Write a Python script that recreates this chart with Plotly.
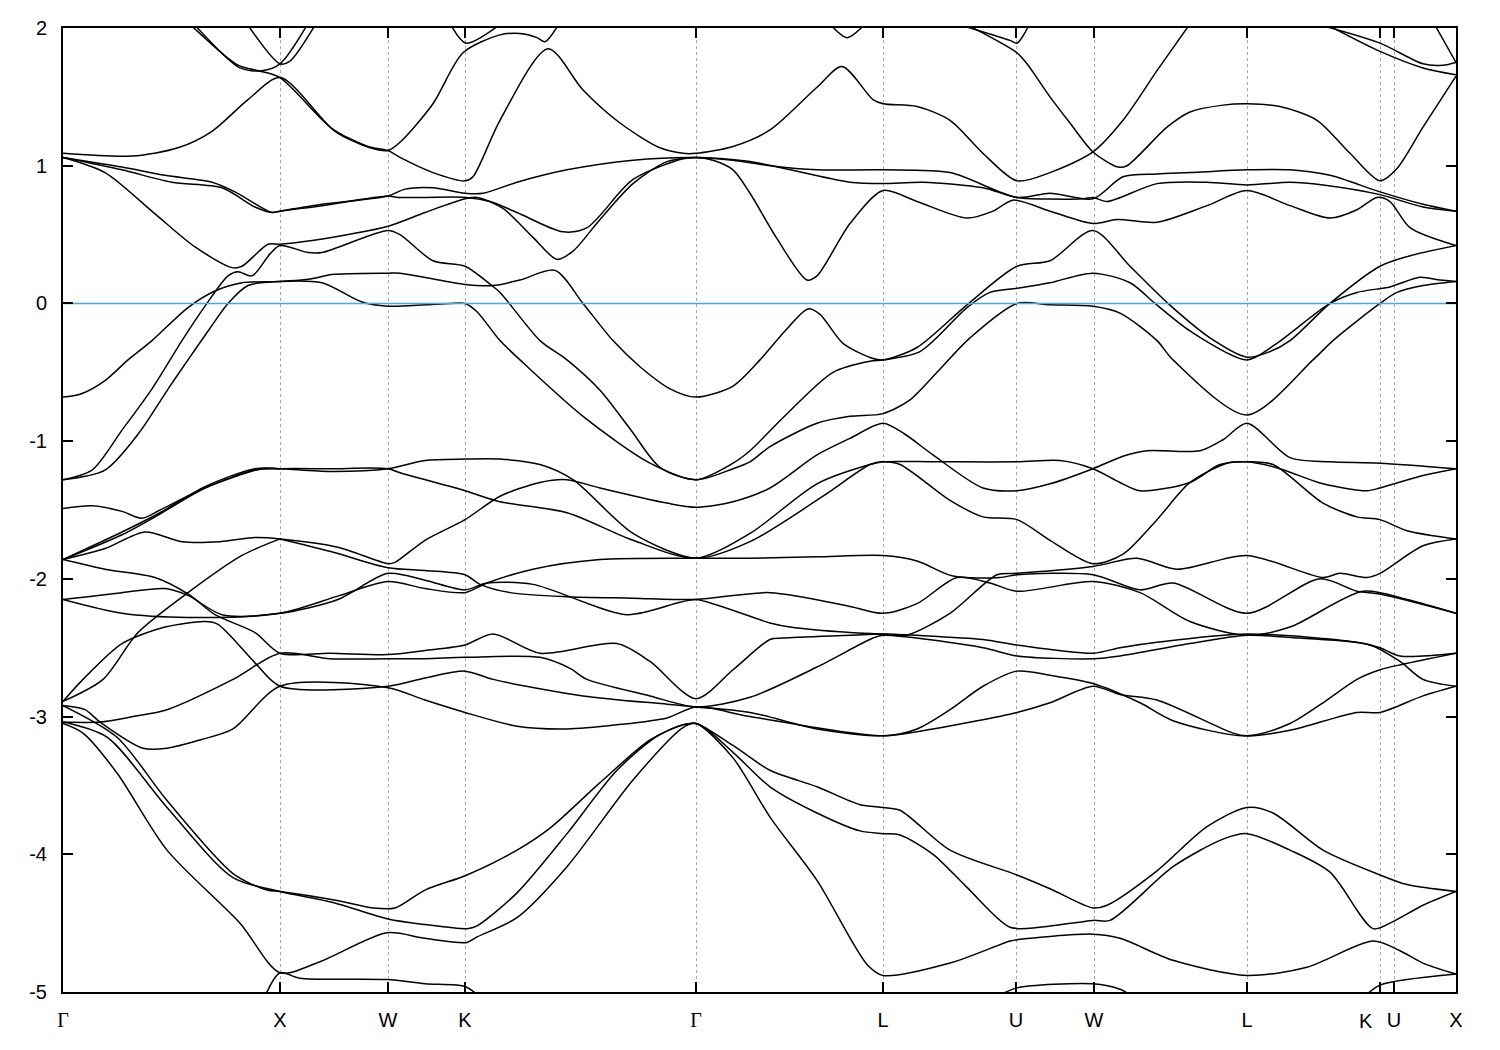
import plotly.graph_objects as go

# High-symmetry points along the k-path (path length, arbitrary units)
kpoint_pos = [0, 217, 325, 402, 633, 820, 953, 1031, 1184, 1317, 1331, 1393]
kpoint_labels = ['<span style="font-family:Liberation Serif">Γ</span>', 'X', 'W', 'K',
                 '<span style="font-family:Liberation Serif">Γ</span>', 'L', 'U', 'W', 'L',
                 'K', 'U', 'X']
energy_ticks = [2, 1, 0, -1, -2, -3, -4, -5]
energy_tick_text = ['2', '1', '0', '-1', '-2', '-3', '-4', '-5']
fermi_level = 0.0

# Bands: (k, E [eV]) samples
band_01 = [(0,1.09),(69,1.07),(115,1.13),(149,1.25),(185,1.48),(217,1.64),(272,1.25),(307,1.13),(325,1.11),(337,1.17),(370,1.45),(400,1.82),(437,1.95),(457,1.96),(474,1.93),(482,1.90),(496,2.03)]
band_02 = [(128,2.02),(175,1.73),(195,1.69),(217,1.64),(269,1.27),(305,1.14),(325,1.11),(337,1.06),(370,0.95),(402,0.89),(410,0.92),(437,1.33),(485,1.85),(520,1.55),(557,1.31),(597,1.13),(620,1.09),(633,1.09),(670,1.14),(707,1.26),(754,1.57),(779,1.72),(810,1.48),(820,1.45),(854,1.43),(887,1.33),(920,1.09),(954,0.89),(987,0.95),(1030,1.10),(1060,1.33),(1094,1.69),(1126,2.02)]
band_03 = [(132,2.02),(177,1.71),(199,1.69),(217,1.74),(244,2.02)]
band_04 = [(185,2.02),(217,1.74),(227,1.76),(252,2.02)]
band_05 = [(388,2.02),(403,1.89),(436,2.02)]
band_06 = [(768,2.02),(784,1.93),(801,2.02)]
band_07 = [(898,2.02),(947,1.91),(954,1.89),(966,2.02)]
band_08 = [(905,2.02),(954,1.82),(964,1.74),(987,1.5),(1007,1.31),(1030,1.10),(1055,0.99),(1064,1.0),(1104,1.28),(1127,1.39),(1160,1.44),(1184,1.45),(1217,1.43),(1254,1.33),(1287,1.09),(1317,0.89),(1334,0.98),(1360,1.28),(1393,1.65)]
band_09 = [(1258,2.02),(1317,1.89),(1360,1.74),(1380,1.73),(1393,1.75)]
band_10 = [(1265,2.02),(1317,1.83),(1360,1.71),(1393,1.66)]
band_11 = [(1372,2.02),(1393,1.75)]
band_12 = [(0,1.06),(59,0.99),(102,0.93),(149,0.88),(172,0.81),(209,0.66),(217,0.67),(259,0.72),(325,0.78),(342,0.83),(370,0.84),(402,0.80),(420,0.80),(454,0.88),(504,0.97),(570,1.04),(633,1.06),(670,1.04),(707,1.0),(754,0.97),(820,0.97),(887,0.95),(954,0.77),(987,0.80),(1030,0.76),(1060,0.92),(1094,0.94),(1127,0.95),(1184,0.97),(1227,0.97),(1267,0.93),(1317,0.81),(1360,0.72),(1393,0.67)]
band_13 = [(0,1.06),(59,0.97),(109,0.88),(159,0.84),(192,0.70),(209,0.66),(217,0.67),(259,0.71),(325,0.78),(335,0.77),(362,0.77),(402,0.77),(427,0.74),(454,0.66),(500,0.52),(524,0.55),(570,0.90),(620,1.05),(633,1.06),(687,1.03),(787,0.88),(820,0.87),(860,0.88),(920,0.84),(954,0.77),(1020,0.76),(1030,0.77),(1044,0.74),(1094,0.87),(1144,0.88),(1184,0.86),(1227,0.88),(1260,0.86),(1317,0.79),(1360,0.70),(1393,0.67)]
band_14 = [(0,1.06),(42,0.95),(92,0.65),(132,0.41),(169,0.26),(179,0.27),(205,0.43),(217,0.43),(277,0.49),(325,0.56),(362,0.66),(402,0.76),(414,0.77),(440,0.69),(470,0.48),(494,0.32),(510,0.38),(537,0.61),(570,0.87),(604,1.03),(633,1.06),(650,1.04),(670,0.97),(687,0.80),(714,0.47),(744,0.17),(754,0.20),(787,0.58),(820,0.82),(854,0.74),(904,0.62),(930,0.67),(950,0.75),(987,0.67),(1030,0.58),(1054,0.61),(1094,0.59),(1144,0.71),(1184,0.82),(1227,0.71),(1267,0.62),(1294,0.68),(1314,0.77),(1327,0.74),(1347,0.55),(1393,0.42)]
band_15 = [(0,-0.68),(17,-0.66),(42,-0.56),(65,-0.41),(89,-0.27),(125,-0.03),(152,0.09),(179,0.15),(217,0.16),(249,0.18),(269,0.21),(325,0.22),(337,0.22),(400,0.14),(430,0.13),(457,0.17),(492,0.24),(520,0.0),(550,-0.27),(577,-0.46),(607,-0.62),(633,-0.68),(670,-0.6),(697,-0.41),(722,-0.2),(745,-0.04),(757,-0.08),(780,-0.29),(810,-0.40),(820,-0.41),(854,-0.32),(904,-0.01),(954,0.27),(987,0.31),(1030,0.53),(1067,0.27),(1105,0.0),(1147,-0.25),(1184,-0.39),(1207,-0.35),(1227,-0.27),(1267,0.0),(1317,0.27),(1344,0.34),(1393,0.42)]
band_16 = [(0,-1.28),(29,-1.21),(59,-0.92),(89,-0.62),(119,-0.27),(142,-0.02),(165,0.20),(175,0.23),(189,0.20),(207,0.36),(217,0.42),(245,0.37),(259,0.37),(325,0.53),(337,0.50),(370,0.31),(402,0.27),(427,0.14),(437,0.08),(477,-0.27),(504,-0.41),(537,-0.63),(567,-0.91),(597,-1.19),(633,-1.28),(670,-1.16),(687,-1.07),(720,-0.83),(770,-0.50),(807,-0.42),(820,-0.41),(857,-0.35),(904,-0.03),(927,0.08),(954,0.11),(987,0.15),(1030,0.22),(1067,0.15),(1092,0.0),(1127,-0.20),(1184,-0.41),(1212,-0.30),(1267,0.0),(1294,0.08),(1327,0.12),(1357,0.19),(1377,0.17),(1393,0.16)]
band_17 = [(0,-1.28),(42,-1.21),(75,-0.95),(107,-0.6),(125,-0.41),(147,-0.18),(165,0.0),(185,0.13),(217,0.16),(259,0.15),(299,0.01),(325,-0.02),(362,-0.01),(387,0.0),(402,0.0),(414,-0.06),(437,-0.27),(457,-0.41),(520,-0.82),(587,-1.16),(633,-1.28),(670,-1.20),(687,-1.15),(707,-1.04),(754,-0.87),(787,-0.82),(820,-0.80),(847,-0.70),(874,-0.50),(907,-0.25),(954,0.0),(987,-0.01),(1030,-0.02),(1057,-0.07),(1094,-0.27),(1110,-0.41),(1184,-0.81),(1250,-0.41),(1270,-0.27),(1317,0.0),(1334,0.08),(1360,0.13),(1393,0.16)]
band_18 = [(0,-1.49),(29,-1.47),(59,-1.51),(79,-1.56),(97,-1.50),(142,-1.34),(199,-1.20),(217,-1.20),(267,-1.22),(325,-1.20),(362,-1.14),(402,-1.13),(437,-1.13),(477,-1.17),(510,-1.28),(570,-1.67),(633,-1.85),(687,-1.73),(760,-1.40),(807,-1.17),(820,-1.15),(837,-1.17),(887,-1.43),(920,-1.55),(954,-1.57),(987,-1.72),(1030,-1.89),(1060,-1.82),(1094,-1.57),(1127,-1.30),(1164,-1.16),(1184,-1.15),(1210,-1.17),(1260,-1.45),(1294,-1.55),(1317,-1.57),(1344,-1.65),(1393,-1.71)]
band_19 = [(0,-1.86),(59,-1.68),(92,-1.55),(142,-1.34),(192,-1.21),(217,-1.20),(267,-1.20),(325,-1.20),(337,-1.23),(402,-1.36),(437,-1.44),(504,-1.52),(570,-1.72),(633,-1.85),(687,-1.67),(754,-1.31),(807,-1.17),(820,-1.15),(874,-1.15),(954,-1.15),(997,-1.14),(1030,-1.20),(1057,-1.30),(1077,-1.36),(1127,-1.30),(1157,-1.17),(1184,-1.15),(1217,-1.20),(1260,-1.31),(1304,-1.36),(1317,-1.34),(1360,-1.25),(1393,-1.20)]
band_20 = [(0,-1.86),(59,-1.66),(97,-1.52),(142,-1.33),(192,-1.20),(217,-1.20)]
band_21 = [(0,-1.86),(42,-1.78),(82,-1.66),(119,-1.73),(157,-1.73),(192,-1.70),(217,-1.71),(275,-1.77),(325,-1.89),(332,-1.88),(362,-1.72),(402,-1.57),(437,-1.40),(477,-1.30),(504,-1.28),(537,-1.34),(604,-1.45),(633,-1.48),(670,-1.44),(707,-1.34),(754,-1.10),(787,-0.98),(820,-0.87),(842,-0.95),(870,-1.10),(920,-1.34),(954,-1.36),(987,-1.31),(1030,-1.20),(1060,-1.11),(1084,-1.07),(1137,-1.07),(1160,-0.99),(1184,-0.87),(1227,-1.12),(1267,-1.15),(1317,-1.16),(1393,-1.20)]
band_22 = [(217,-1.71),(267,-1.80),(325,-1.92),(362,-1.94),(402,-1.97),(417,-2.04),(447,-2.10),(504,-2.13),(570,-2.14),(633,-2.15),(707,-2.10),(787,-2.20),(820,-2.25),(854,-2.18),(894,-1.99),(927,-2.03),(954,-2.09),(1030,-2.02),(1077,-2.10),(1127,-2.31),(1184,-2.41),(1227,-2.35),(1300,-2.09),(1344,-2.15),(1393,-2.25)]
band_23 = [(0,-2.89),(40,-2.73),(75,-2.39),(125,-2.10),(179,-1.83),(217,-1.71)]
band_24 = [(0,-2.15),(59,-2.10),(102,-2.07),(125,-2.12),(159,-2.26),(217,-2.25),(275,-2.15),(325,-1.96),(362,-2.01),(402,-2.08),(424,-2.03),(470,-2.04),(564,-2.26),(617,-2.17),(633,-2.15),(707,-2.32),(727,-2.35),(787,-2.39),(820,-2.40),(843,-2.41),(887,-2.25),(934,-1.97),(954,-1.96),(1030,-1.91),(1074,-1.85),(1114,-1.93),(1184,-1.83),(1260,-1.99),(1277,-1.96),(1304,-1.99),(1317,-1.96),(1360,-1.76),(1393,-1.71)]
band_25 = [(0,-2.15),(59,-2.25),(125,-2.28),(217,-2.25),(277,-2.12),(325,-2.02),(362,-2.07),(402,-2.10),(424,-2.03),(470,-1.93),(537,-1.86),(633,-1.85),(687,-1.85),(754,-1.84),(820,-1.83),(854,-1.87),(890,-1.98),(937,-1.99),(954,-1.97),(1030,-1.97),(1077,-2.08),(1110,-2.03),(1184,-2.25),(1257,-2.00),(1294,-2.09),(1317,-2.11),(1393,-2.25)]
band_26 = [(0,-1.86),(42,-1.93),(92,-1.99),(125,-2.11),(152,-2.26),(192,-2.39),(217,-2.54),(267,-2.54),(325,-2.55),(362,-2.52),(402,-2.48),(430,-2.40),(477,-2.54),(554,-2.47),(587,-2.60),(633,-2.87),(670,-2.66),(707,-2.44),(720,-2.43),(787,-2.41),(820,-2.40),(854,-2.41),(920,-2.44),(954,-2.48),(1030,-2.54),(1057,-2.50),(1094,-2.46),(1184,-2.40),(1294,-2.46),(1317,-2.50),(1337,-2.56),(1393,-2.54)]
band_27 = [(0,-3.04),(37,-3.04),(70,-3.00),(104,-2.95),(170,-2.73),(217,-2.54),(267,-2.58),(325,-2.58),(362,-2.58),(402,-2.57),(477,-2.57),(507,-2.65),(524,-2.73),(587,-2.85),(633,-2.93),(687,-2.86),(754,-2.64),(810,-2.43),(820,-2.41),(920,-2.50),(954,-2.56),(1030,-2.58),(1057,-2.56),(1127,-2.47),(1184,-2.41),(1237,-2.43),(1307,-2.48),(1337,-2.60),(1360,-2.73),(1393,-2.78)]
band_28 = [(0,-2.89),(20,-2.73),(59,-2.47),(102,-2.35),(142,-2.31),(155,-2.33),(192,-2.61),(217,-2.78),(325,-2.78),(362,-2.72),(402,-2.67),(430,-2.73),(520,-2.85),(604,-2.91),(633,-2.93),(687,-2.97),(754,-3.09),(820,-3.14),(870,-3.09),(954,-2.97),(987,-2.90),(1030,-2.78),(1057,-2.84),(1094,-2.88),(1170,-3.12),(1184,-3.14),(1227,-3.10),(1294,-2.97),(1317,-2.97),(1360,-2.85),(1393,-2.78)]
band_29 = [(0,-2.92),(22,-2.95),(37,-3.04),(80,-3.23),(104,-3.23),(137,-3.17),(170,-3.09),(217,-2.78),(325,-2.79),(362,-2.88),(402,-2.97),(454,-3.07),(504,-3.09),(554,-3.06),(604,-3.01),(633,-2.93),(687,-3.00),(820,-3.14),(854,-3.09),(887,-2.95),(920,-2.78),(954,-2.67),(987,-2.70),(1030,-2.76),(1077,-2.90),(1110,-3.03),(1184,-3.14),(1227,-3.05),(1260,-2.90),(1294,-2.73),(1317,-2.66),(1340,-2.62),(1393,-2.54)]
band_30 = [(0,-2.92),(54,-3.15),(104,-3.61),(170,-4.14),(204,-4.26),(217,-4.27),(270,-4.33),(310,-4.39),(332,-4.39),(362,-4.26),(404,-4.15),(454,-3.97),(487,-3.81),(537,-3.48),(587,-3.17),(620,-3.06),(633,-3.05),(670,-3.21),(707,-3.39),(754,-3.51),(797,-3.64),(820,-3.66),(837,-3.68),(887,-3.97),(954,-4.15),(987,-4.25),(1030,-4.39),(1044,-4.37),(1094,-4.12),(1144,-3.80),(1184,-3.66),(1210,-3.70),(1260,-3.97),(1317,-4.15),(1344,-4.22),(1393,-4.27)]
band_31 = [(0,-3.04),(44,-3.15),(104,-3.66),(170,-4.17),(217,-4.27),(270,-4.35),(325,-4.47),(362,-4.51),(404,-4.54),(414,-4.52),(454,-4.28),(504,-3.85),(554,-3.39),(597,-3.13),(633,-3.05),(670,-3.26),(707,-3.51),(754,-3.70),(797,-3.83),(820,-3.85),(837,-3.86),(870,-4.00),(904,-4.24),(947,-4.53),(977,-4.53),(1030,-4.48),(1047,-4.48),(1110,-4.09),(1160,-3.89),(1184,-3.85),(1227,-3.97),(1267,-4.13),(1310,-4.54),(1327,-4.50),(1360,-4.37),(1393,-4.27)]
band_32 = [(0,-3.05),(20,-3.12),(54,-3.41),(104,-3.97),(177,-4.50),(217,-4.86),(257,-4.78),(324,-4.57),(362,-4.61),(404,-4.64),(414,-4.60),(454,-4.46),(504,-4.09),(570,-3.46),(620,-3.08),(633,-3.05),(670,-3.30),(707,-3.73),(754,-4.19),(804,-4.80),(820,-4.88),(887,-4.79),(947,-4.63),(954,-4.62),(1030,-4.58),(1057,-4.61),(1110,-4.77),(1184,-4.88),(1244,-4.82),(1310,-4.63),(1337,-4.70),(1360,-4.79),(1393,-4.87)]
band_33 = [(202,-5.03),(217,-4.86),(237,-4.90),(324,-4.91),(362,-4.94),(402,-4.96),(416,-5.03)]
band_34 = [(935,-5.03),(954,-4.97),(1030,-4.94),(1057,-4.98),(1069,-5.03)]
band_35 = [(1302,-5.03),(1317,-4.95),(1393,-4.87)]

bands = [band_01, band_02, band_03, band_04, band_05, band_06, band_07, band_08, band_09, band_10,
         band_11, band_12, band_13, band_14, band_15, band_16, band_17, band_18, band_19, band_20,
         band_21, band_22, band_23, band_24, band_25, band_26, band_27, band_28, band_29, band_30,
         band_31, band_32, band_33, band_34, band_35]

fig = go.Figure()
for band in bands:
    k_vals = [p[0] for p in band]
    e_vals = [p[1] for p in band]
    fig.add_trace(go.Scatter(x=k_vals, y=e_vals, mode='lines',
                             line=dict(color='black', width=1.5, shape='spline', smoothing=0.8),
                             hoverinfo='skip', showlegend=False))

# Fermi level
fig.add_trace(go.Scatter(x=[kpoint_pos[0], kpoint_pos[-1]], y=[fermi_level, fermi_level], mode='lines',
                         line=dict(color='#48a9e0', width=1.6), hoverinfo='skip', showlegend=False))

label_font = dict(size=20, color='black', family='Liberation Sans, Arial, sans-serif')
axis_common = dict(showline=True, linecolor='black', linewidth=2, mirror='allticks',
                   ticks='inside', ticklen=10, tickwidth=1.5, tickcolor='black',
                   zeroline=False, tickfont=label_font)

# The K label next to U is drawn slightly to the left (as in the original) to avoid overlapping U
tick_text_axis = [t if i != 9 else '' for i, t in enumerate(kpoint_labels)]

fig.update_xaxes(range=[kpoint_pos[0], kpoint_pos[-1]], tickmode='array', tickvals=kpoint_pos,
                 ticktext=tick_text_axis, tickangle=0, showgrid=True, gridcolor='#aaaaaa', gridwidth=1,
                 griddash='3px,3px', ticklabelstandoff=9, **axis_common)
fig.update_yaxes(range=[-5, 2], tickmode='array', tickvals=energy_ticks, ticktext=energy_tick_text,
                 showgrid=False, ticklabelstandoff=10, **axis_common)

fig.add_annotation(x=kpoint_pos[9], xref='x', y=0, yref='paper', text=kpoint_labels[9],
                   showarrow=False, xanchor='right', yanchor='top', xshift=-5, yshift=-16,
                   font=label_font)

fig.update_layout(width=1500, height=1050, margin=dict(l=63, r=44, t=28, b=58, autoexpand=False),
                  plot_bgcolor='white', paper_bgcolor='white', showlegend=False,
                  font=dict(family='Liberation Sans, Arial, sans-serif', size=20, color='black'))

fig.write_html("out.html", config={'displayModeBar': False},
               post_script="document.body.style.margin='0';")
